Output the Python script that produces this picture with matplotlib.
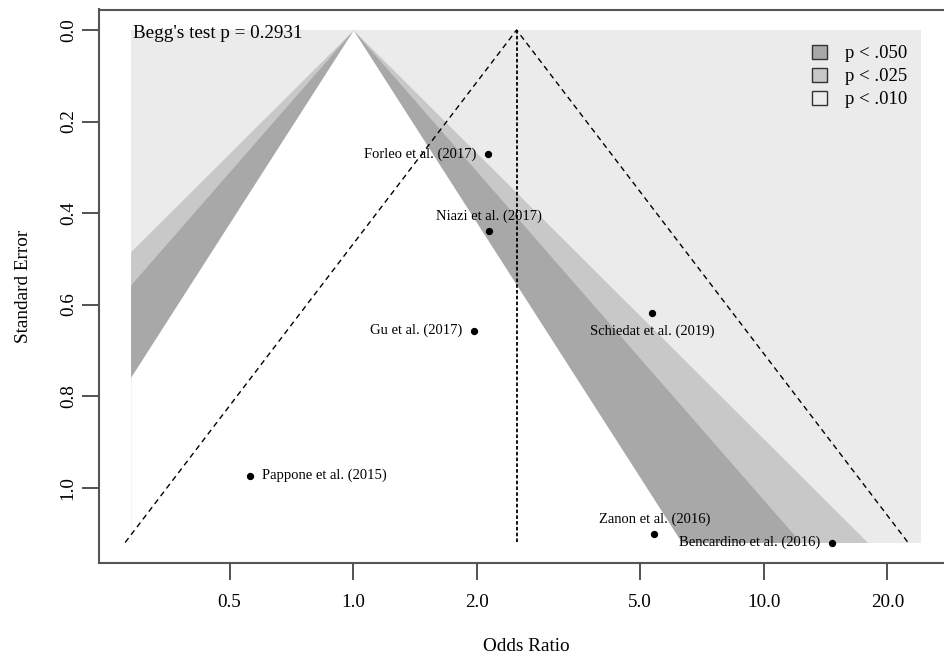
import numpy as np
import matplotlib
matplotlib.use("Agg")
import matplotlib.pyplot as plt
from matplotlib.patches import Patch

plt.rcParams['font.family'] = ['Liberation Serif', 'DejaVu Serif']

# study estimates
studies = ["Forleo et al. (2017)", "Niazi et al. (2017)", "Gu et al. (2017)",
           "Schiedat et al. (2019)", "Pappone et al. (2015)", "Zanon et al. (2016)",
           "Bencardino et al. (2016)"]
odds_ratio = [2.13, 2.14, 1.97, 5.34, 0.56, 5.41, 14.7]
std_err = [0.272, 0.440, 0.657, 0.618, 0.974, 1.101, 1.120]
label_pos = ["left", "above", "left", "below", "right", "above", "left"]

pooled_or = 2.50
begg_p = 0.2931
se_max = 1.12
shade_range = (0.287, 24.2)

# contour z values (outer -> inner) and their shades
contour_z = [2.576, 2.241, 1.645]
contour_cols = ["#ebebeb", "#c8c8c8", "#a8a8a8"]
legend_labels = ["p < .050", "p < .025", "p < .010"]
legend_cols = ["#a8a8a8", "#c8c8c8", "#ededed"]

fig = plt.figure(figsize=(9.44, 6.56), dpi=100)
ax = fig.add_axes([99/944, 93/656, 854/944, 553.5/656])
ax.set_xscale('log')

se = np.linspace(0, se_max, 400)
lo, hi = np.log(shade_range[0]), np.log(shade_range[1])

# background (outermost level)
ax.fill_betweenx([0, se_max], shade_range[0], shade_range[1], color=contour_cols[0], lw=0)
for z, c in zip(contour_z, contour_cols[1:] + ["white"]):
    left = np.exp(np.clip(-z * se, lo, hi))
    right = np.exp(np.clip(z * se, lo, hi))
    ax.fill_betweenx(se, left, right, color=c, lw=0)

# pseudo confidence funnel around pooled estimate
lp = np.log(pooled_or)
ax.plot([np.exp(lp - 1.96 * se_max), pooled_or, np.exp(lp + 1.96 * se_max)],
        [se_max, 0, se_max], color="black", lw=1.0, ls=(0, (4, 3)))
ax.plot([pooled_or, pooled_or], [0, se_max], color="black", lw=1.3, ls=(0, (2, 1.2)))

ax.scatter(odds_ratio, std_err, s=18, color="black", zorder=5)

offsets = {"left": ((-12, 0), "right", "center"),
           "right": ((12, 0), "left", "center"),
           "above": ((0, 15), "center", "center"),
           "below": ((0, -18), "center", "center")}
for name, x, y, p in zip(studies, odds_ratio, std_err, label_pos):
    off, ha, va = offsets[p]
    ax.annotate(name, (x, y), xytext=off, textcoords="offset pixels",
                ha=ha, va=va, fontsize=10.5)

ax.text(0.291, 0.008, "Begg's test p = %.4f" % begg_p, fontsize=13.8,
        ha="left", va="center")

pad_x = (hi - lo) * 0.04
ax.set_xlim(np.exp(lo - pad_x), np.exp(hi + pad_x))
ax.set_ylim(se_max * 1.04, -se_max * 0.04)

xt = [0.5, 1, 2, 5, 10, 20]
ax.set_xticks(xt)
ax.set_xticklabels(["%.1f" % v for v in xt])
ax.xaxis.set_minor_locator(matplotlib.ticker.NullLocator())
yt = [0.0, 0.2, 0.4, 0.6, 0.8, 1.0]
ax.set_yticks(yt)
ax.set_yticklabels(["%.1f" % v for v in yt], rotation=90, va="center")
ax.tick_params(length=12, width=1.3, color="#444444", labelsize=13.8)
ax.tick_params(axis="x", pad=10)
ax.tick_params(axis="y", pad=4)
for s in ax.spines.values():
    s.set_color("#555555")
    s.set_linewidth(1.5)

ax.set_xlabel("Odds Ratio", fontsize=13.8, labelpad=20)
ax.set_ylabel("Standard Error", fontsize=13.8, labelpad=20)

handles = [Patch(facecolor=c, edgecolor="#333333", lw=1.0) for c in legend_cols]
ax.legend(handles, legend_labels, loc="upper left", bbox_to_anchor=(0.824, 0.953),
          frameon=False, fontsize=13.5, borderpad=0, handlelength=0.8,
          handleheight=0.75, handletextpad=0.95, labelspacing=0.3)

fig.savefig("out.png", dpi=100)
